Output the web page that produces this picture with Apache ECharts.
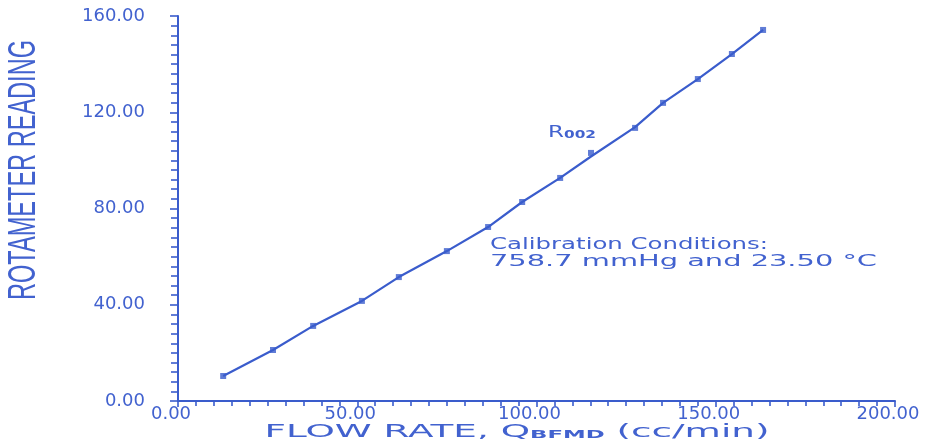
<!DOCTYPE html>
<html>
<head>
<meta charset="utf-8">
<title>Rotameter R002 calibration</title>
<script src="https://cdn.jsdelivr.net/npm/echarts@6/dist/echarts.min.js"></script>
<style>
  html, body { margin: 0; padding: 0; background: #ffffff; }
  #chart { width: 937px; height: 445px; }
</style>
</head>
<body>
<div id="chart"></div>
<script>
// Measured calibration points for rotameter R002: bubble-flow-meter flow rate vs. float reading
const flowRate = [12.6, 26.5, 37.7, 51.3, 61.6, 75.0, 86.5, 96.0, 106.6, 115.2, 127.5, 135.3, 145.0, 154.5, 163.2];
const reading  = [10.4, 21.2, 31.2, 41.6, 51.5, 62.3, 72.3, 82.7, 92.7, 103.1, 113.5, 123.9, 133.8, 144.2, 154.2];

// Calibration curve at the same flow rates
// (it runs just under the point at 115.2 cc/min)
const curveFlow    = [12.6, 26.5, 37.7, 51.3, 61.6, 75.0, 86.5, 96.0, 106.6, 115.2, 127.5, 135.3, 145.0, 154.5, 163.2];
const curveReading = [10.4, 21.2, 31.2, 41.6, 51.5, 62.3, 72.3, 82.7, 92.7, 101.6, 113.8, 123.9, 133.8, 144.2, 154.2];

// Axis ranges and labelled ticks
const xTicks = [0, 50, 100, 150, 200];
const yTicks = [0, 40, 80, 120, 160];

// Text drawn on the plot
const yTitle = 'ROTAMETER READING';
const xTitleParts = ['FLOW RATE, Q', 'BFMD', ' (cc/min)'];
const seriesTagParts = ['R', '002'];
const conditionLines = ['Calibration Conditions:', '758.7 mmHg and 23.50 \u00B0C'];

const ink = '#3a5ccc';
const inkText = '#4262cf';
const plotFont = '"DejaVu Sans", Verdana, sans-serif';

// width of a string in a given font, used to stretch pen-plotter style lettering
const measureCtx = document.createElement('canvas').getContext('2d');
function textWidth(str, size, family, weight) {
  measureCtx.font = (weight || 'normal') + ' ' + size + 'px ' + family;
  return measureCtx.measureText(str).width;
}

const points = flowRate.map((x, i) => [x, reading[i]]);
const curve = curveFlow.map((x, i) => [x, curveReading[i]]);

const chart = echarts.init(document.getElementById('chart'), null, { renderer: 'canvas' });

const tickLabel = v => v.toFixed(2);

// stretched lettering
const yTitleSize = 38, yTitleFamily = '"Liberation Sans", Arial, sans-serif';
const yTitleScale = 260 / textWidth(yTitle, yTitleSize, yTitleFamily);

const xMainSize = 18, xSubSize = 11;
const xTitleWidth = textWidth(xTitleParts[0], xMainSize, plotFont) +
  textWidth(xTitleParts[1], xSubSize, plotFont, 'bold') +
  textWidth(xTitleParts[2], xMainSize, plotFont);
const xTitleScale = 505 / xTitleWidth;

const tagMainSize = 15, tagSubSize = 10;
const tagWidth = textWidth(seriesTagParts[0], tagMainSize, plotFont) +
  textWidth(seriesTagParts[1], tagSubSize, plotFont, 'bold');
const tagScale = 48 / tagWidth;

const condSize = 16;
const condScale1 = 278 / textWidth(conditionLines[0], condSize, plotFont);
const condScale2 = 387 / textWidth(conditionLines[1], condSize, plotFont);

chart.setOption({
  backgroundColor: '#ffffff',
  animation: false,
  grid: { left: 178, right: 42, top: 16, bottom: 44, containLabel: false },
  xAxis: {
    type: 'value',
    min: xTicks[0],
    max: xTicks[xTicks.length - 1],
    interval: xTicks[1] - xTicks[0],
    axisLine: { show: true, onZero: false, lineStyle: { color: ink, width: 2 } },
    axisTick: { show: true, inside: false, length: 6, lineStyle: { color: ink, width: 1.6 } },
    minorTick: { show: true, splitNumber: 10, length: 5, lineStyle: { color: ink, width: 1.6 } },
    splitLine: { show: false },
    minorSplitLine: { show: false },
    axisLabel: {
      formatter: tickLabel,
      color: inkText,
      fontFamily: plotFont,
      fontSize: 18,
      margin: 4,
      padding: [0, 14, 0, 0],
      hideOverlap: false
    }
  },
  yAxis: {
    type: 'value',
    min: yTicks[0],
    max: yTicks[yTicks.length - 1],
    interval: yTicks[1] - yTicks[0],
    axisLine: { show: true, onZero: false, lineStyle: { color: ink, width: 2 } },
    axisTick: { show: true, inside: false, length: 8, lineStyle: { color: ink, width: 1.6 } },
    minorTick: { show: true, splitNumber: 10, length: 7, lineStyle: { color: ink, width: 1.6 } },
    splitLine: { show: false },
    minorSplitLine: { show: false },
    axisLabel: {
      formatter: tickLabel,
      color: inkText,
      fontFamily: plotFont,
      fontSize: 18,
      margin: 33,
      hideOverlap: false
    }
  },
  series: [
    {
      name: 'R002 curve',
      type: 'line',
      data: curve,
      smooth: false,
      showSymbol: false,
      symbol: 'none',
      lineStyle: { color: ink, width: 2.2 },
      z: 2
    },
    {
      name: 'R002',
      type: 'scatter',
      data: points,
      symbol: 'rect',
      symbolSize: 6,
      itemStyle: { color: ink },
      z: 3
    }
  ],
  graphic: [
    {
      type: 'text',
      x: 25, y: 170,
      rotation: Math.PI / 2,
      scaleX: yTitleScale,
      style: {
        text: yTitle,
        fontSize: yTitleSize,
        fontFamily: yTitleFamily,
        fill: inkText,
        align: 'center',
        verticalAlign: 'middle'
      }
    },
    {
      type: 'text',
      x: 517, y: 432,
      scaleX: xTitleScale,
      style: {
        text: '{m|' + xTitleParts[0] + '}{s|' + xTitleParts[1] + '}{m|' + xTitleParts[2] + '}',
        align: 'center',
        verticalAlign: 'middle',
        rich: {
          m: { fontSize: xMainSize, fontFamily: plotFont, fill: inkText, color: inkText },
          s: { fontSize: xSubSize, fontFamily: plotFont, fontWeight: 'bold', fill: inkText, color: inkText, verticalAlign: 'bottom' }
        }
      }
    },
    {
      type: 'text',
      x: 548, y: 133,
      scaleX: tagScale,
      style: {
        text: '{m|' + seriesTagParts[0] + '}{s|' + seriesTagParts[1] + '}',
        align: 'left',
        verticalAlign: 'middle',
        rich: {
          m: { fontSize: tagMainSize, fontFamily: plotFont, fill: inkText, color: inkText },
          s: { fontSize: tagSubSize, fontFamily: plotFont, fontWeight: 'bold', fill: inkText, color: inkText, verticalAlign: 'bottom' }
        }
      }
    },
    {
      type: 'text',
      x: 490, y: 245,
      scaleX: condScale1,
      style: {
        text: conditionLines[0],
        fontSize: condSize,
        fontFamily: plotFont,
        fill: inkText,
        align: 'left',
        verticalAlign: 'middle'
      }
    },
    {
      type: 'text',
      x: 490, y: 262,
      scaleX: condScale2,
      style: {
        text: conditionLines[1],
        fontSize: condSize,
        fontFamily: plotFont,
        fill: inkText,
        align: 'left',
        verticalAlign: 'middle'
      }
    }
  ]
});
</script>
</body>
</html>
